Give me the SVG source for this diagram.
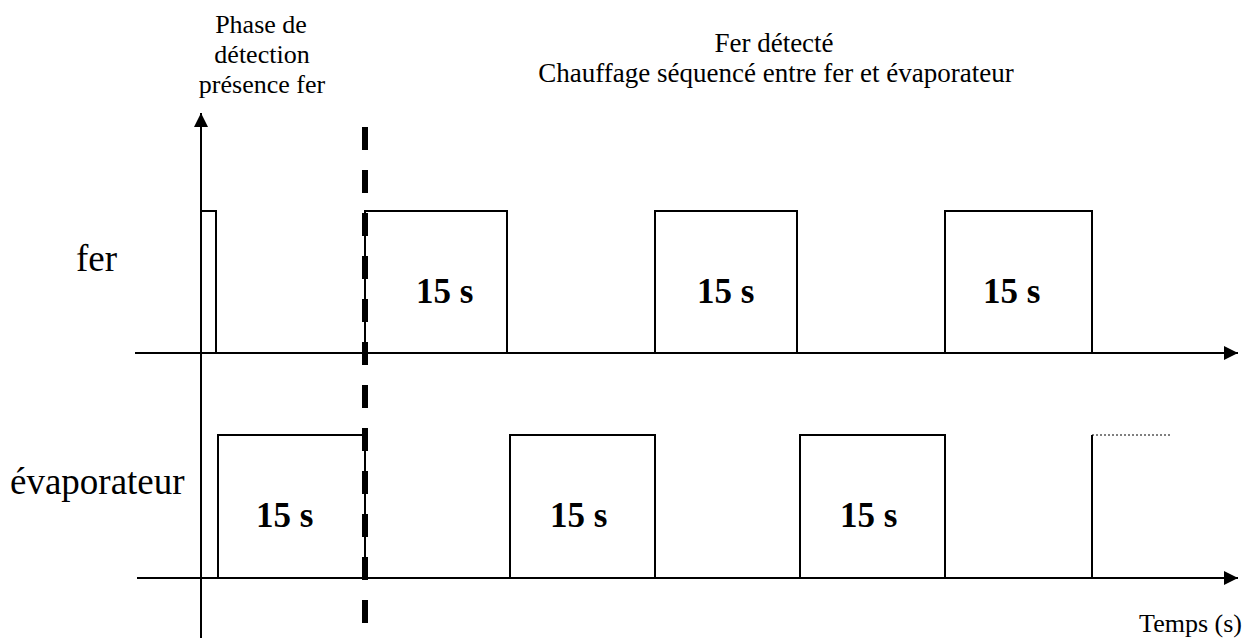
<svg xmlns="http://www.w3.org/2000/svg" width="1246" height="638" viewBox="0 0 1246 638">
  <style>
    .txt { font-family: "Liberation Serif", "Times New Roman", "DejaVu Serif", serif; fill: #000; }
    .small { font-size: 26px; }
    .head { font-size: 27px; }
    .big { font-size: 37px; }
    .dur { font-size: 35px; font-weight: bold; }
    .axis { stroke: #000; stroke-width: 2; fill: none; }
    .pulse { stroke: #000; stroke-width: 2; fill: none; }
  </style>
  <defs>
    <marker id="arrow" viewBox="0 0 14 14" refX="14" refY="7" markerWidth="14" markerHeight="14" markerUnits="userSpaceOnUse" orient="auto">
      <path d="M0,0 L14,7 L0,14 Z" fill="#000"/>
    </marker>
  </defs>

  <!-- header labels -->
  <g id="phase-label">
    <text class="txt small" x="261" y="33" text-anchor="middle">Phase de</text>
    <text class="txt small" x="262" y="63" text-anchor="middle">détection</text>
    <text class="txt small" x="262" y="93" text-anchor="middle">présence fer</text>
  </g>
  <g id="chauffage-label">
    <text class="txt head" x="774" y="52" text-anchor="middle">Fer détecté</text>
    <text class="txt head" x="776" y="82" text-anchor="middle">Chauffage séquencé entre fer et évaporateur</text>
  </g>

  <!-- signal names -->
  <g id="fer-label">
    <text class="txt big" x="76" y="271">fer</text>
  </g>
  <g id="evaporateur-label">
    <text class="txt big" x="10" y="494">évaporateur</text>
  </g>
  <g id="temps-label">
    <text class="txt small" x="1242" y="632" text-anchor="end">Temps (s)</text>
  </g>

  <!-- axes -->
  <g id="axes">
    <line class="axis" x1="201" y1="638" x2="201" y2="113" marker-end="url(#arrow)"/>
    <line class="axis" x1="135" y1="353" x2="1238" y2="353" marker-end="url(#arrow)"/>
    <line class="axis" x1="137" y1="578" x2="1238" y2="578" marker-end="url(#arrow)"/>
  </g>

  <!-- fer heating pulses -->
  <g id="fer-signal">
    <polyline class="pulse" points="201,211 216,211 216,353"/>
    <polyline class="pulse" points="365,353 365,211 507,211 507,353"/>
    <polyline class="pulse" points="655,353 655,211 797,211 797,353"/>
    <polyline class="pulse" points="945,353 945,211 1092,211 1092,353"/>
    <text class="txt dur" x="416" y="303">15 s</text>
    <text class="txt dur" x="697" y="303">15 s</text>
    <text class="txt dur" x="983" y="303">15 s</text>
  </g>

  <!-- evaporator heating pulses -->
  <g id="evaporateur-signal">
    <polyline class="pulse" points="218,578 218,435 365,435 365,578"/>
    <polyline class="pulse" points="510,578 510,435 655,435 655,578"/>
    <polyline class="pulse" points="800,578 800,435 945,435 945,578"/>
    <line class="pulse" x1="1092" y1="578" x2="1092" y2="435"/>
    <line x1="1092" y1="435" x2="1170" y2="435" stroke="#000" stroke-width="1" stroke-dasharray="2 2"/>
    <text class="txt dur" x="256" y="527">15 s</text>
    <text class="txt dur" x="550" y="527">15 s</text>
    <text class="txt dur" x="840" y="527">15 s</text>
  </g>

  <!-- boundary between detection phase and sequenced heating -->
  <g id="connectors">
    <line x1="365" y1="127" x2="365" y2="638" stroke="#000" stroke-width="6" stroke-dasharray="23 20"/>
  </g>
</svg>
